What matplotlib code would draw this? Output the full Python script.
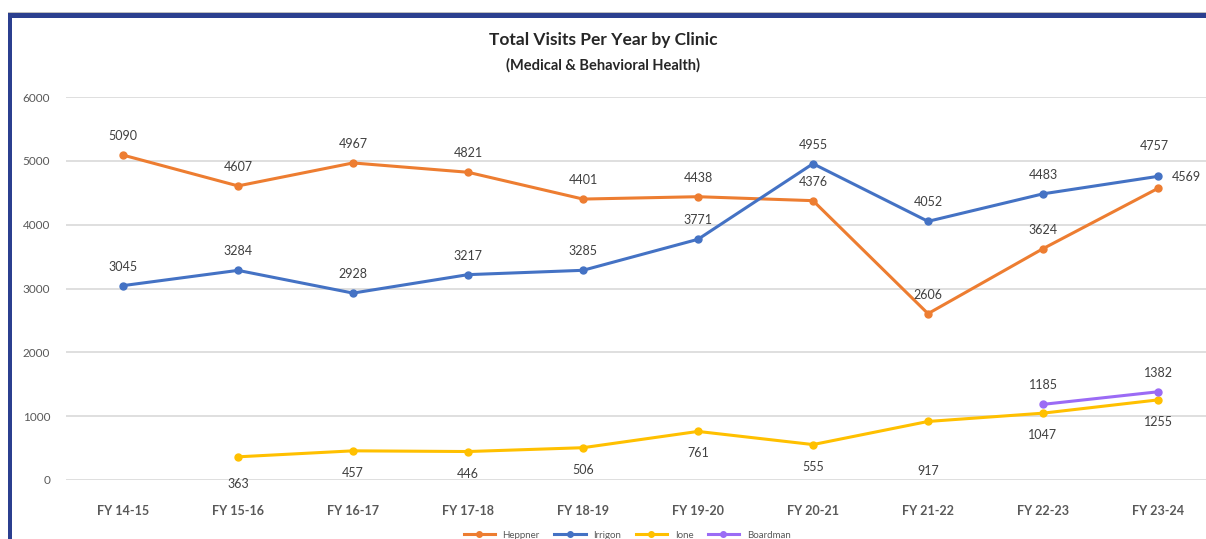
import matplotlib
matplotlib.use('Agg')
import matplotlib.pyplot as plt
import matplotlib.patches as mpatches
import numpy as np

# ─── Data ──────────────────────────────────────────────────────────────────
years = ['FY 14-15', 'FY 15-16', 'FY 16-17', 'FY 17-18', 'FY 18-19',
         'FY 19-20', 'FY 20-21', 'FY 21-22', 'FY 22-23', 'FY 23-24']
heppner  = [5090, 4607, 4967, 4821, 4401, 4438, 4376, 2606, 3624, 4569]
irrigon  = [3045, 3284, 2928, 3217, 3285, 3771, 4955, 4052, 4483, 4757]
ione     = [None, 363, 457, 446, 506, 761, 555, 917, 1047, 1255]
boardman = [None, None, None, None, None, None, None, None, 1185, 1382]

# ─── Warna ─────────────────────────────────────────────────────────────────
C_HEP = '#ED7D31'
C_IRR = '#4472C4'
C_ION = '#FFC000'
C_BRD = '#9B6BF5'
C_GRID = '#D9D9D9'
C_TICK = '#595959'
C_LBL = '#404040'
C_FRAME = '#2B3F8F'

plt.rcParams['font.family'] = ['Lato', 'DejaVu Sans']

W, H = 1206, 539
fig = plt.figure(figsize=(W / 100, H / 100), dpi=100)
fig.patch.set_facecolor('white')

# axes placed in pixel terms: category 0 at x=123, step 115 ; 0 at y=480, 6000 at y=97
x_left = 123 - 0.5 * 115
x_right = 123 + 9.5 * 115
ax = fig.add_axes([x_left / W, 1 - 480 / H, (x_right - x_left) / W, (480 - 97) / H])
ax.set_xlim(-0.5, 9.5)
ax.set_ylim(0, 6000)
ax.set_yticks(np.arange(0, 6001, 1000))
ax.set_xticks(range(len(years)))
ax.set_xticklabels(years, fontsize=9, color=C_TICK, fontweight='bold')
ax.tick_params(axis='y', labelsize=8.5, colors=C_TICK, length=0, pad=11)
ax.tick_params(axis='x', length=0, pad=18)
ax.grid(axis='y', color=C_GRID, lw=1.2)
ax.set_axisbelow(True)
for s in ax.spines.values():
    s.set_visible(False)

x = np.arange(len(years))


def series(vals):
    return np.array([np.nan if v is None else v for v in vals], dtype=float)


lines = []
for vals, col, name in [(heppner, C_HEP, 'Heppner'), (irrigon, C_IRR, 'Irrigon'),
                        (ione, C_ION, 'Ione'), (boardman, C_BRD, 'Boardman')]:
    ln, = ax.plot(x, series(vals), color=col, lw=2.2, marker='o', ms=5,
                  label=name, zorder=3)
    lines.append(ln)


def labels(vals, dy, special=None):
    special = special or {}
    for i, v in enumerate(vals):
        if v is None:
            continue
        ox, oy, ha = special.get(i, (0, dy, 'center'))
        ax.annotate(str(v), (i, v), xytext=(ox, oy), textcoords='offset pixels',
                    ha=ha, va='center', fontsize=9, color=C_LBL)


labels(heppner, 19, {9: (14, 11, 'left')})
labels(irrigon, 19, {9: (-4, 30, 'center')})
labels(ione, -22, {1: (0, -27, 'center'), 7: (0, -50, 'center')})
labels(boardman, 19)

# Titles
fig.text(0.5, 1 - 40 / H, 'Total Visits Per Year by Clinic', ha='center', va='center',
         fontsize=12.5, fontweight='bold', color='#262626')
fig.text(0.5, 1 - 65 / H, '(Medical & Behavioral Health)', ha='center', va='center',
         fontsize=10.5, fontweight='bold', color='#262626')

# Legend (partly cut at bottom)
fig.legend(handles=lines, loc='center', bbox_to_anchor=(0.52, 1 - 535 / H), ncol=4,
           frameon=False, fontsize=7, handlelength=3.2, columnspacing=1.5,
           labelcolor=C_TICK, markerscale=0.8)

# Frame
fig.add_artist(mpatches.Rectangle((8 / W, 1 - 18 / H), 1 - 8 / W, 5 / H,
                                  transform=fig.transFigure, color=C_FRAME, lw=0))
fig.add_artist(mpatches.Rectangle((8 / W, 0), 4 / W, 1 - 13 / H,
                                  transform=fig.transFigure, color=C_FRAME, lw=0))
fig.add_artist(mpatches.Rectangle((8 / W, 1 - 13 / H), 1 - 8 / W, 1.5 / H,
                                  transform=fig.transFigure, color='#BFBFBF', lw=0))

fig.savefig('out.png', dpi=100, facecolor='white')
